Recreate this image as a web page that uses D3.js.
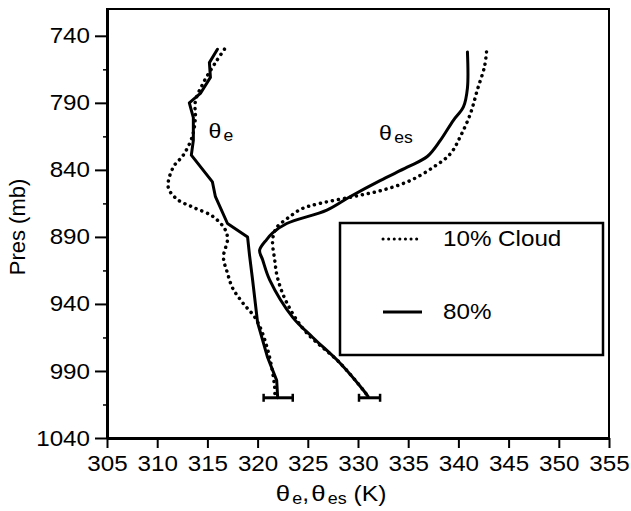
<!DOCTYPE html>
<html>
<head>
<meta charset="utf-8">
<script src="https://cdn.jsdelivr.net/npm/d3@7"></script>
<style>
body { margin: 0; background: #fff; }
text { font-family: "Liberation Sans", Arial, sans-serif; fill: #000; }
</style>
</head>
<body>
<script>
// [pressure (mb), temperature (K)]
var thetaE10 = [[750,316.7],[760,315.8],[775,314.6],[789,313.8],[801,313.8],[815,313.5],[829,312.6],[838,311.6],
	[853,311.1],[862,312.0],[868,313.6],[875,315.6],[885,316.8],[892,317.0],[905,316.6],[917,317.0],[928,317.5],
	[939,318.5],[952,319.9],[974,321.0],[1002,321.7],[1010,321.7]];
var thetaE80 = [[750,316.0],[760,315.2],[771,315.3],[783,314.3],[790,313.2],[801,313.6],[818,313.6],[829,313.4],
	[849,315.5],[860,315.8],[880,317.0],[890,319.0],[904,319.2],[922,319.5],[954,320.0],[980,321.0],[997,321.9],[1010,322.0]];
var thetaES10 = [[752,342.8],[763,342.6],[780,341.9],[798,341.2],[815,340.2],[828,339.2],[838,337.5],[848,335.2],
	[855,332.5],[860,329.5],[865,326.2],[869,324.4],[876,323.0],[883,321.9],[892,321.5],[907,321.7],[921,322.0],
	[939,322.9],[960,324.7],[984,328.2],[1004,330.5],[1008,330.9]];
var thetaES80 = [[752,340.9],[779,340.9],[793,340.5],[803,339.5],[818,338.2],[830,336.9],[838,334.9],[848,332.2],
	[860,329.2],[870,326.9],[880,322.9],[887,321.5],[892,320.9],[900,320.2],[907,320.5],[922,321.2],[950,323.5],
	[965,325.5],[984,328.2],[1004,330.5],[1009,331.0]];

// error bars at the surface
var errPres = [1010, 1010];
var errLow = [320.6, 330.1];
var errHigh = [323.5, 332.2];

var presTicks = [740, 790, 840, 890, 940, 990, 1040];
var presMinor = [765, 815, 865, 915, 965, 1015];
var tempTicks = [305, 310, 315, 320, 325, 330, 335, 340, 345, 350, 355];

var legendLabels = ['10% Cloud', '80%'];

var svg = d3.select('body').append('svg')
	.attr('width', 631)
	.attr('height', 511);

var x = d3.scaleLinear().domain([305, 355]).range([107, 609]);
var y = d3.scaleLinear().domain([720, 1040]).range([9, 438]);

// frame
svg.append('rect')
	.attr('x', x(305)).attr('y', y(720))
	.attr('width', x(355) - x(305)).attr('height', y(1040) - y(720))
	.attr('fill', 'none').attr('stroke', '#000').attr('stroke-width', 2);

// y axis
var yAxis = svg.append('g')
	.attr('transform', 'translate(' + x(305) + ',0)')
	.call(d3.axisLeft(y).tickValues(presTicks).tickFormat(d3.format('d')).tickSize(12).tickSizeOuter(0));
yAxis.select('.domain').attr('stroke-width', 3);
yAxis.selectAll('.tick line').attr('stroke-width', 2);
yAxis.selectAll('text')
	.attr('x', -17 / 1.1)
	.attr('transform', 'scale(1.1,1)')
	.style('font-size', '22px');

svg.append('g')
	.attr('transform', 'translate(' + x(305) + ',0)')
	.call(d3.axisLeft(y).tickValues(presMinor).tickSize(4).tickFormat(''))
	.call(function(g) { g.select('.domain').remove(); })
	.selectAll('line').attr('stroke-width', 1.5);

// x axis
var xAxis = svg.append('g')
	.attr('transform', 'translate(0,' + y(1040) + ')')
	.call(d3.axisBottom(x).tickValues(tempTicks).tickSize(10).tickPadding(7).tickSizeOuter(0));
xAxis.select('.domain').attr('stroke-width', 3);
xAxis.selectAll('.tick line').attr('stroke-width', 2);
xAxis.selectAll('text')
	.attr('transform', 'scale(1.1,1)')
	.style('font-size', '22px');

// axis titles
svg.append('text')
	.attr('transform', 'translate(25,227) rotate(-90)')
	.attr('text-anchor', 'middle')
	.style('font-size', '22px')
	.text('Pres (mb)');

var xt = svg.append('g').attr('transform', 'translate(331,501) scale(1.12,1)')
	.append('text')
	.attr('text-anchor', 'middle')
	.style('font-size', '22px');
xt.append('tspan').style('font-size', '23px').text('θ');
xt.append('tspan').attr('dx', 2).attr('dy', 3).style('font-size', '16px').text('e');
xt.append('tspan').attr('dy', -3).text(',');
xt.append('tspan').attr('dx', 2).style('font-size', '23px').text('θ');
xt.append('tspan').attr('dx', 2).attr('dy', 3).style('font-size', '16px').text('es');
xt.append('tspan').attr('dy', -3).text(' (K)');

// curves
var line = d3.line()
	.x(function(d) { return x(d[1]); })
	.y(function(d) { return y(d[0]); });

var series = [
	{data: thetaE10, dotted: true, smooth: true},
	{data: thetaES10, dotted: true, smooth: true},
	{data: thetaE80, dotted: false, smooth: false},
	{data: thetaES80, dotted: false, smooth: true}
];

svg.selectAll('path.curve')
	.data(series).enter()
	.append('path')
	.attr('class', 'curve')
	.attr('d', function(d) { return line.curve(d.smooth ? d3.curveCatmullRom : d3.curveLinear)(d.data); })
	.attr('fill', 'none')
	.attr('stroke', '#000')
	.attr('stroke-width', function(d) { return d.dotted ? 3.5 : 3; })
	.attr('stroke-linecap', 'round')
	.attr('stroke-linejoin', 'round')
	.attr('stroke-dasharray', function(d) { return d.dotted ? '0.1,6' : null; });

// error bars
for (var i = 0; i < errPres.length; i++) {
	var eg = svg.append('g').attr('stroke', '#000').attr('stroke-width', 3);
	eg.append('line')
		.attr('x1', x(errLow[i])).attr('x2', x(errHigh[i]))
		.attr('y1', y(errPres[i])).attr('y2', y(errPres[i]));
	[errLow[i], errHigh[i]].forEach(function(v) {
		eg.append('line')
			.attr('x1', x(v)).attr('x2', x(v))
			.attr('y1', y(errPres[i]) - 4).attr('y2', y(errPres[i]) + 4)
			.attr('stroke-width', 2.5);
	});
}

// curve labels
var curveLabels = [
	{k: 315.1, p: 816, sub: 'e'},
	{k: 332.1, p: 818, sub: 'es'}
];
curveLabels.forEach(function(l) {
	var t = svg.append('g')
		.attr('transform', 'translate(' + x(l.k) + ',' + y(l.p) + ') scale(1.1,1)')
		.append('text')
		.style('font-size', '21px');
	t.append('tspan').text('θ');
	t.append('tspan').attr('dx', 2).attr('dy', 3).style('font-size', '16px').text(l.sub);
});

// legend
var lg = svg.append('g');
lg.append('rect')
	.attr('x', 340).attr('y', 223)
	.attr('width', 263).attr('height', 132)
	.attr('fill', '#fff').attr('stroke', '#000').attr('stroke-width', 2.5);

legendLabels.forEach(function(name, i) {
	var ly = 239 + i * 73;
	lg.append('line')
		.attr('x1', 383).attr('x2', 422)
		.attr('y1', ly).attr('y2', ly)
		.attr('stroke', '#000')
		.attr('stroke-width', i === 0 ? 3 : 3)
		.attr('stroke-linecap', i === 0 ? 'round' : 'butt')
		.attr('stroke-dasharray', i === 0 ? '0.1,5.5' : null);
	lg.append('g')
		.attr('transform', 'translate(443,' + (ly + 7) + ') scale(1.1,1)')
		.append('text')
		.style('font-size', '22px')
		.text(name);
});
</script>
</body>
</html>
